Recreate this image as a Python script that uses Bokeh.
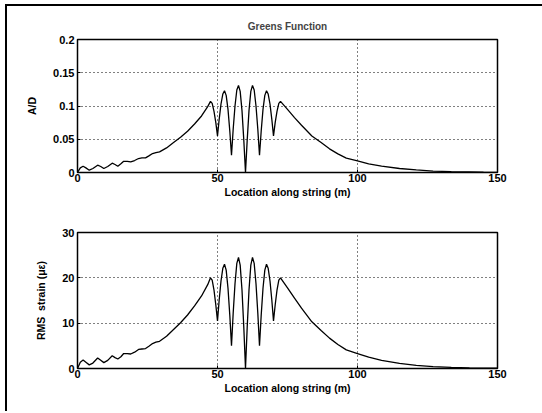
from bokeh.plotting import figure
from bokeh.layouts import column
from bokeh.models import FixedTicker, CustomJSTickFormatter
from bokeh.embed import file_html
from bokeh.resources import INLINE

# Position along the string (m)
location = [0, 1, 2, 3, 4.2, 5.5, 7.2, 8.3, 9.4, 10.8, 12.4, 13.4, 14.4, 15.5,
            16.5, 17.8, 19, 20.4, 21.8, 23, 24.3, 25.5, 26.8, 28, 29.3, 31.8,
            34.3, 36.8, 39.3, 41.8, 44.3, 46.5, 47.5,
            48.1, 48.75, 49.4, 50,
            50.6, 51.25, 51.9, 52.5, 53.1, 53.75, 54.4, 55,
            55.6, 56.25, 56.9, 57.5, 58.1, 58.75, 59.4, 60,
            60.6, 61.25, 61.9, 62.5, 63.1, 63.75, 64.4, 65,
            65.6, 66.25, 66.9, 67.5, 68.1, 68.75, 69.4, 70,
            70.6, 71.25, 71.9, 72.5,
            75, 77.5, 80, 83.7, 87, 90, 93, 96, 100, 104, 108.6, 115, 121, 127,
            133.5, 140, 145, 150]

# Normalised response A/D
a_over_d = [0.0, 0.007, 0.0094, 0.007, 0.0035, 0.006, 0.011, 0.009, 0.006,
            0.009, 0.014, 0.012, 0.0094, 0.013, 0.0168, 0.0168, 0.016, 0.018,
            0.021, 0.022, 0.022, 0.025, 0.0285, 0.030, 0.031, 0.037, 0.045,
            0.053, 0.062, 0.073, 0.085, 0.099, 0.107,
            0.104, 0.092, 0.075, 0.055,
            0.080, 0.103, 0.118, 0.123, 0.116, 0.095, 0.062, 0.026,
            0.065, 0.100, 0.124, 0.131, 0.122, 0.093, 0.048, 0.0,
            0.048, 0.093, 0.122, 0.131, 0.124, 0.100, 0.065, 0.026,
            0.062, 0.095, 0.116, 0.123, 0.118, 0.103, 0.080, 0.055,
            0.075, 0.092, 0.104, 0.107,
            0.095, 0.0825, 0.071, 0.055, 0.045, 0.0356, 0.028, 0.0215, 0.0175,
            0.013, 0.0095, 0.006, 0.0038, 0.0022, 0.0012, 0.0008, 0.0005,
            0.0003]

# RMS strain (micro-strain)
rms_strain = [0.0, 1.4, 1.9, 1.4, 0.8, 1.2, 2.3, 1.8, 1.3, 1.8, 2.8, 2.4, 2.1,
              2.6, 3.3, 3.3, 3.2, 3.6, 4.2, 4.3, 4.4, 4.9, 5.5, 5.8, 6.0, 7.1,
              8.6, 10.1, 11.8, 13.8, 16.0, 18.5, 20.0,
              19.5, 17.3, 14.0, 10.5,
              15.1, 19.3, 22.1, 23.0, 21.7, 17.7, 11.7, 5.0,
              12.2, 18.7, 23.2, 24.5, 22.8, 17.3, 9.0, 0.0,
              9.0, 17.3, 22.8, 24.5, 23.2, 18.7, 12.2, 5.0,
              11.7, 17.7, 21.7, 23.0, 22.1, 19.3, 15.1, 10.5,
              14.0, 17.3, 19.5, 20.0,
              17.8, 15.5, 13.3, 10.3, 8.4, 6.7, 5.3, 4.1, 3.3, 2.5, 1.8, 1.15,
              0.7, 0.42, 0.23, 0.15, 0.1, 0.06]

x_ticks = [0, 50, 100, 150]
ad_ticks = [0, 0.05, 0.1, 0.15, 0.2]
strain_ticks = [0, 10, 20, 30]

FONT = "Liberation Sans"
fmt = CustomJSTickFormatter(code="return String(Math.round(tick * 1000) / 1000);")


def style(p, yticks):
    p.outline_line_color = "black"
    p.outline_line_width = 1.5
    p.outline_line_alpha = 1
    for ax in (p.xaxis, p.yaxis):
        ax.axis_line_color = None
        ax.major_tick_line_color = "black"
        ax.major_tick_in = 3
        ax.major_tick_out = 0
        ax.minor_tick_line_color = None
        ax.major_label_text_font = FONT
        ax.major_label_text_font_size = "11px"
        ax.major_label_text_font_style = "bold"
        ax.major_label_text_color = "black"
        ax.axis_label_text_font = FONT
        ax.axis_label_text_font_size = "10.5px"
        ax.axis_label_text_font_style = "bold"
        ax.axis_label_text_color = "black"
    p.xaxis.ticker = FixedTicker(ticks=x_ticks)
    p.yaxis.ticker = FixedTicker(ticks=yticks)
    p.xaxis.formatter = fmt
    p.yaxis.formatter = fmt
    p.xaxis.major_label_standoff = 1
    p.xaxis.axis_label_standoff = 1
    p.yaxis.major_label_standoff = 3
    p.yaxis.axis_label_standoff = 12
    for g in (p.xgrid, p.ygrid):
        g.grid_line_color = "black"
        g.grid_line_dash = "1 3"
        g.grid_line_width = 1
    p.background_fill_color = "white"
    p.border_fill_color = "white"


# The canvases run a little past the right edge of the page, so the
# page frame shows only its top and left rules.
p1 = figure(width=548, height=194, x_range=(0, 150), y_range=(0, 0.2),
            output_backend="svg", toolbar_location=None,
            min_border_left=70, min_border_right=58, min_border_top=33,
            min_border_bottom=26, title="Greens Function")
p1.line(location, a_over_d, line_color="black", line_width=1.3)
p1.xaxis.axis_label = "Location along string (m)"
p1.yaxis.axis_label = "A/D"
p1.title.align = "center"
p1.title.text_font = FONT
p1.title.text_font_size = "10px"
p1.title.text_font_style = "bold"
p1.title.standoff = 15
style(p1, ad_ticks)

p2 = figure(width=548, height=211, x_range=(0, 150), y_range=(0, 30),
            output_backend="svg", toolbar_location=None,
            min_border_left=70, min_border_right=58, min_border_top=32,
            min_border_bottom=43)
p2.line(location, rms_strain, line_color="black", line_width=1.3)
p2.xaxis.axis_label = "Location along string (m)"
p2.yaxis.axis_label = "RMS\u00a0\u00a0strain (\u03bc\u03b5)"
style(p2, strain_ticks)

# Page frame: a black rule along the top and the left edge
frame = {"border-left": "2px solid black", "border-top": "2px solid black",
         "margin-left": "5px", "margin-top": "4px",
         "overflow": "visible", "box-sizing": "content-box"}
layout = column(p1, p2, spacing=0, styles=frame)

html = file_html(layout, INLINE)
html = html.replace("<head>", "<head><style>html, body { overflow: hidden; margin: 0; }</style>", 1)
open("out.html", "w").write(html)
